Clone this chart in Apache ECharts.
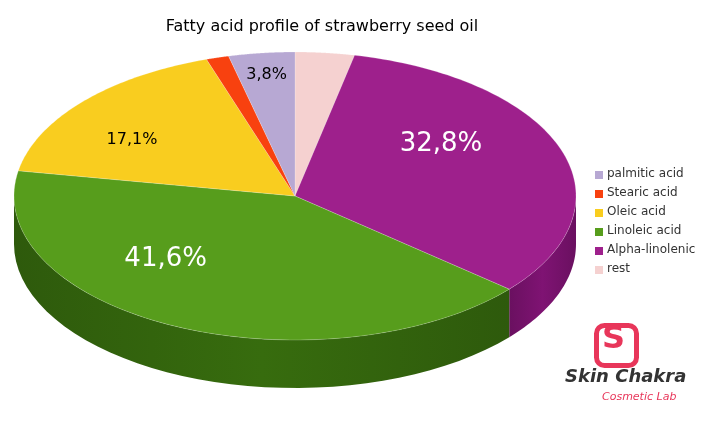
<!DOCTYPE html><html><head><meta charset="utf-8">
<script src="https://cdn.jsdelivr.net/npm/echarts@6/dist/echarts.min.js"></script>
<style>body{margin:0}#c{width:704px;height:444px}</style></head><body><div id="c"></div>
<script>
const categories=['rest','Alpha-linolenic','Linoleic acid','Oleic acid','Stearic acid','palmitic acid'];
const values=[3.4,32.8,41.6,17.1,1.3,3.8];
const labels=['','32,8%','41,6%','17,1%','','3,8%'];
const legendOrder=['palmitic acid','Stearic acid','Oleic acid','Linoleic acid','Alpha-linolenic','rest'];
const colors={'rest':'#f5d1d0','Alpha-linolenic':'#9e208c','Linoleic acid':'#579d1c','Oleic acid':'#f9cd1f','Stearic acid':'#f8410f','palmitic acid':'#b7a8d3'};
const sides={'rest':'#b8908f','Alpha-linolenic':'#6a1060','Linoleic acid':'#2e5a0c','Oleic acid':'#b08d10','Stearic acid':'#a02806','palmitic acid':'#7c6f99'};
const total=values.reduce((a,b)=>a+b,0);
const starts=[];let acc=0;values.forEach(v=>{starts.push(acc);acc+=v;});
const G={cx:295,cy:196,rx:281,ry:144,d:48};
// label placement tweaks (radius fraction, dx, dy)
const labelPos=[[0,0,0],[0.68,-35,-20],[0.68,-48,-25],[0.72,-10,12],[0,0,0],[0.85,0,0]];
function ang(p){return -Math.PI/2+p/total*2*Math.PI;}
function pt(t,dy){return [G.cx+G.rx*Math.cos(t),G.cy+G.ry*Math.sin(t)+(dy||0)];}
const data=categories.map((c,i)=>({name:c,value:[starts[i],values[i]]}));
function sideItem(params,api){
  const i=params.dataIndex;const a1=ang(starts[i]),a2=ang(starts[i]+values[i]);
  const ch=[];const ranges=[];
  for(const off of [0,2*Math.PI,-2*Math.PI]){const lo=Math.max(a1,off),hi=Math.min(a2,off+Math.PI);if(hi>lo)ranges.push([lo,hi]);}
  ranges.forEach(([lo,hi])=>{const pts=[];const n=40;
    for(let k=0;k<=n;k++)pts.push(pt(lo+(hi-lo)*k/n,0));
    for(let k=n;k>=0;k--)pts.push(pt(lo+(hi-lo)*k/n,G.d));
    ch.push({type:'polygon',shape:{points:pts},style:{fill:new echarts.graphic.LinearGradient(0,0,1,0,[{offset:0,color:sides[categories[i]]},{offset:0.5,color:echarts.color.lift(sides[categories[i]],-0.2)},{offset:1,color:sides[categories[i]]}])}});
  });
  return {type:'group',children:ch};
}
function topItem(params,api){
  const i=params.dataIndex;const a1=ang(starts[i]),a2=ang(starts[i]+values[i]);
  const pts=[[G.cx,G.cy]];const n=80;
  for(let k=0;k<=n;k++)pts.push(pt(a1+(a2-a1)*k/n,0));
  const ch=[{type:'polygon',shape:{points:pts},style:{fill:colors[categories[i]],stroke:'rgba(255,255,255,0.4)',lineWidth:0.5}}];
  if(labels[i]){const big=values[i]>30;const m=(a1+a2)/2;const lp=labelPos[i];
    const x=G.cx+G.rx*lp[0]*Math.cos(m)+lp[1],y=G.cy+G.ry*lp[0]*Math.sin(m)+lp[2];
    ch.push({type:'text',style:{text:labels[i],x:x,y:y,align:'center',verticalAlign:'middle',fill:big?'#fff':'#000',font:(big?'26px':'16px')+' "DejaVu Sans",sans-serif'}});}
  return {type:'group',children:ch};
}
const graphics=[];
legendOrder.forEach((n,k)=>{graphics.push({type:'rect',left:595,top:171+k*19,shape:{width:8,height:8},style:{fill:colors[n]}});
  graphics.push({type:'text',left:607,top:168+k*19,style:{text:n,fill:'#333',font:'12px "DejaVu Sans",sans-serif'}});});
graphics.push({type:'text',left:565,top:368,style:{text:'Skin Chakra',fill:'#333',font:'italic bold 18px "DejaVu Sans",sans-serif'}});
graphics.push({type:'text',left:602,top:392,style:{text:'Cosmetic Lab',fill:'#e8365a',font:'italic 11px "DejaVu Sans",sans-serif'}});
graphics.push({type:'rect',left:594,top:323,shape:{width:40,height:40,r:8},style:{fill:'none',stroke:'#e8365a',lineWidth:5}});
graphics.push({type:'text',left:602,top:324,style:{text:'S',fill:'#e8365a',font:'bold 32px "DejaVu Sans",sans-serif'}});
const chart=echarts.init(document.getElementById('c'));
chart.setOption({backgroundColor:'#fff',animation:false,
 title:{text:'Fatty acid profile of strawberry seed oil',left:317,top:14,textAlign:'center',textStyle:{fontSize:16,fontWeight:'normal',color:'#000',fontFamily:'DejaVu Sans'}},
 series:[{type:'custom',coordinateSystem:'none',renderItem:sideItem,data:data,z:1},
         {type:'custom',coordinateSystem:'none',renderItem:topItem,data:data,z:2}],
 graphic:graphics});
</script></body></html>
